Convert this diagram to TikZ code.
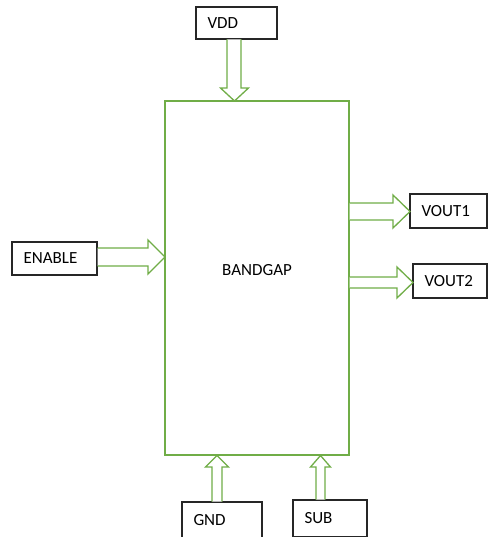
\documentclass[tikz,border=0pt]{standalone}
\usepackage{fontspec}
\setmainfont{Carlito}
\definecolor{gr}{HTML}{70AD47}
\begin{document}
\begin{tikzpicture}[x=1pt,y=-1pt,
  box/.style={draw=black!85,line width=1.1pt,rectangle,anchor=north west,inner xsep=11.5pt,inner ysep=0pt,outer sep=0pt,align=left,font=\fontsize{17}{20}\selectfont},
  barrow/.style={draw=gr,line width=1.3pt,fill=white,line join=miter}]
\useasboundingbox (0,0) rectangle (488,537);
\node[draw=gr,line width=1.3pt,minimum width=184pt,minimum height=354pt,anchor=north west,outer sep=0pt] (bg) at (165,101) {};
\node[font=\fontsize{17}{20}\selectfont] (bgl) at (257,270) {BANDGAP};
\node[box,minimum height=32pt,text width=58pt] (vdd) at (196,7) {VDD};
\node[box,minimum height=33pt,text width=62pt] (en) at (12,242) {ENABLE};
\node[box,minimum height=34pt,text width=54pt] (v1) at (410,194) {VOUT1};
\node[box,minimum height=34pt,text width=51pt] (v2) at (413,264) {VOUT2};
\node[box,minimum height=36pt,text width=57pt] (gnd) at (182,502) {GND};
\node[box,minimum height=37pt,text width=51pt] (sub) at (293,500) {SUB};
% VDD -> BANDGAP
\draw[barrow] (227,39.5) -- (227,88) -- (220.5,88) -- (234.5,101) -- (248.5,88) -- (241,88) -- (241,39.5);
% ENABLE -> BANDGAP
\draw[barrow] (97.5,248) -- (148,248) -- (148,240) -- (165,257) -- (148,274) -- (148,266) -- (97.5,266);
% BANDGAP -> VOUT1
\draw[barrow] (349.5,203) -- (393,203) -- (393,195) -- (410,211.5) -- (393,228) -- (393,220) -- (349.5,220);
% BANDGAP -> VOUT2
\draw[barrow] (349.5,277) -- (397,277) -- (397,267) -- (413,282.5) -- (397,298) -- (397,288) -- (349.5,288);
% GND -> BANDGAP
\draw[barrow] (212,501.5) -- (212,467) -- (205.5,467) -- (217,455.5) -- (228.5,467) -- (222,467) -- (222,501.5);
% SUB -> BANDGAP
\draw[barrow] (316,499.5) -- (316,467) -- (310.5,467) -- (320.5,455.5) -- (330.5,467) -- (325,467) -- (325,499.5);
\end{tikzpicture}
\end{document}
